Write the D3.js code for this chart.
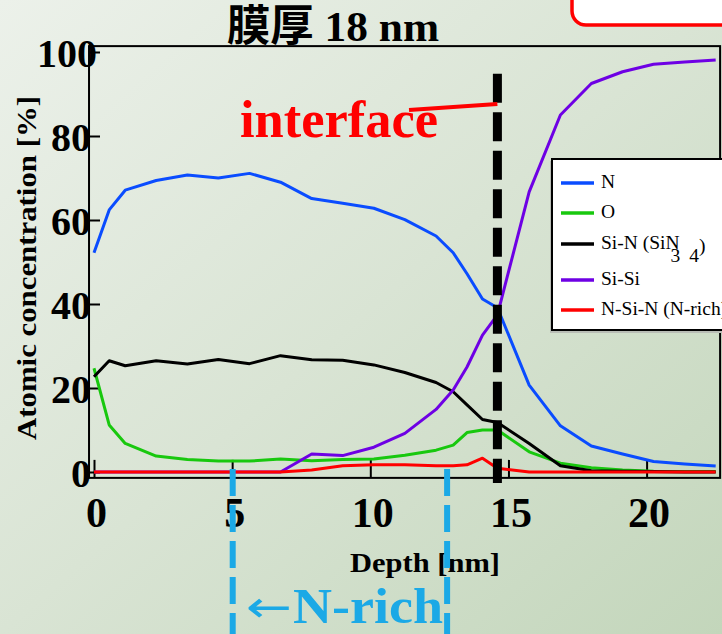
<!DOCTYPE html>
<html>
<head>
<meta charset="utf-8">
<script src="https://cdn.jsdelivr.net/npm/d3@7"></script>
<style>
  html, body { margin: 0; padding: 0; overflow: hidden; }
  svg { display: block; }
</style>
</head>
<body>
<script>
// Sputter depth profile of an 18 nm SiN film
const depth = [0, 0.55, 1.13, 2.25, 3.38, 4.5, 5.63, 6.75, 7.88, 9.0, 10.13, 11.25, 12.38, 13.0, 13.5, 14.06, 14.6, 15.75, 16.88, 18.0, 19.13, 20.25, 21.38, 22.5];
const nitrogen = [52.2, 62.4, 67.1, 69.4, 70.7, 70.0, 71.1, 69.0, 65.1, 64.0, 62.8, 60.1, 56.2, 52.2, 47.2, 41.2, 39.1, 20.7, 11.0, 6.2, 4.3, 2.5, 1.9, 1.4];
const oxygen = [24.7, 11.2, 6.8, 3.8, 3.0, 2.6, 2.6, 3.1, 2.7, 3.0, 3.1, 4.0, 5.2, 6.4, 9.4, 10.0, 10.0, 4.8, 2.1, 1.0, 0.5, 0.2, 0.1, 0.1];
const siN = [22.7, 26.5, 25.3, 26.5, 25.7, 26.8, 25.8, 27.7, 26.7, 26.6, 25.5, 23.7, 21.3, 19.1, 16.0, 12.5, 11.8, 6.8, 1.5, 0.3, 0.2, 0.1, 0, 0];
const siSi = [0, 0, 0, 0, 0, 0, 0, 0, 4.3, 3.9, 5.9, 9.2, 14.9, 19.5, 25.0, 32.6, 37.4, 66.7, 85.0, 92.5, 95.3, 97.1, 97.6, 98.1];
const nSiN = [0, 0, 0, 0, 0, 0, 0, 0, 0.5, 1.5, 1.7, 1.7, 1.5, 1.5, 1.7, 3.3, 0.9, 0, 0, 0, 0, 0, 0, 0];

const seriesNames = ["N", "O", "Si-N (SiN)", "Si-Si", "N-Si-N (N-rich)"];
const seriesValues = [nitrogen, oxygen, siN, siSi, nSiN];
const seriesColors = ["#0a4cff", "#18c80e", "#000000", "#6e00e4", "#ff0000"];

const xTicks = [0, 5, 10, 15, 20];
const yTicks = [0, 20, 40, 60, 80, 100];

const interfaceDepth = 14.6;
const nRichRange = [5.02, 12.78];

const W = 722, H = 634;
const serif = "'Liberation Serif', 'Times New Roman', serif";

const svg = d3.select("body").append("svg").attr("width", W).attr("height", H);

// background wash
const defs = svg.append("defs");
const grad = defs.append("linearGradient").attr("id", "bg")
  .attr("x1", "0").attr("y1", "0").attr("x2", "1").attr("y2", "1");
grad.append("stop").attr("offset", "0").attr("stop-color", "#ecf1ea");
grad.append("stop").attr("offset", "0.5").attr("stop-color", "#d9e4d4");
grad.append("stop").attr("offset", "1").attr("stop-color", "#c3d6bb");
svg.append("rect").attr("width", W).attr("height", H).attr("fill", "url(#bg)");

// rounded call-out box in the corner
svg.append("rect").attr("x", 572).attr("y", -30).attr("width", 200).attr("height", 55)
  .attr("rx", 14).attr("fill", "#ffffff").attr("stroke", "#ff0000").attr("stroke-width", 3.5);

const x = d3.scaleLinear().domain([0, 20]).range([94, 646.6]);
const y = d3.scaleLinear().domain([0, 100]).range([472, 52]);

// title
svg.append("text").attr("x", 333).attr("y", 41).attr("text-anchor", "middle")
  .attr("font-family", serif + ", 'Noto Sans CJK JP'").attr("font-weight", "bold")
  .attr("font-size", 43).attr("fill", "#000")
  .attr("textLength", 212).attr("lengthAdjust", "spacingAndGlyphs")
  .text("膜厚 18 nm");

// plot frame
const fx0 = x(-0.18), fx1 = x(22.66), fy0 = y(101.4), fy1 = y(-1.4);
svg.append("rect").attr("x", fx0).attr("y", fy0).attr("width", fx1 - fx0).attr("height", fy1 - fy0)
  .attr("fill", "none").attr("stroke", "#000").attr("stroke-width", 2);

// axes with inward ticks
const xAxis = svg.append("g").attr("transform", `translate(0,${fy1})`)
  .call(d3.axisBottom(x).tickValues(xTicks).tickSize(-18).tickFormat(d3.format("d")));
xAxis.select(".domain").remove();
xAxis.selectAll(".tick line").attr("stroke", "#000").attr("stroke-width", 2);
xAxis.selectAll(".tick text").attr("y", 49).attr("dy", 0).attr("x", 2)
  .attr("font-family", serif).attr("font-weight", "bold").attr("font-size", 42).attr("fill", "#000");

const yAxis = svg.append("g").attr("transform", `translate(${fx0},0)`)
  .call(d3.axisLeft(y).tickValues(yTicks).tickSize(-11).tickFormat(d3.format("d")));
yAxis.select(".domain").remove();
yAxis.selectAll(".tick line").attr("stroke", "#000").attr("stroke-width", 2);
yAxis.selectAll(".tick text").attr("x", d => d === 100 ? 8 : 2).attr("dy", "0.36em")
  .attr("font-family", serif).attr("font-weight", "bold").attr("font-size", 40).attr("fill", "#000");

// axis titles
svg.append("text").attr("transform", "translate(36,268) rotate(-90)").attr("text-anchor", "middle")
  .attr("font-family", serif).attr("font-weight", "bold").attr("font-size", 28).attr("fill", "#000")
  .attr("textLength", 344).attr("lengthAdjust", "spacingAndGlyphs")
  .text("Atomic concentration [%]");
svg.append("text").attr("x", 425).attr("y", 572).attr("text-anchor", "middle")
  .attr("font-family", serif).attr("font-weight", "bold").attr("font-size", 27).attr("fill", "#000")
  .attr("textLength", 150).attr("lengthAdjust", "spacingAndGlyphs")
  .text("Depth [nm]");

// profile curves
const line = d3.line().x((d, i) => x(depth[i])).y(d => y(d));
seriesValues.forEach((vals, k) => {
  svg.append("path").datum(vals).attr("d", line)
    .attr("fill", "none").attr("stroke", seriesColors[k]).attr("stroke-width", 3)
    .attr("stroke-linejoin", "round");
});

// interface marker
svg.append("line").attr("x1", x(interfaceDepth)).attr("x2", x(interfaceDepth))
  .attr("y1", y(94.8)).attr("y2", y(-2.6))
  .attr("stroke", "#000").attr("stroke-width", 9).attr("stroke-dasharray", "29,9.5");
svg.append("line").attr("x1", x(11.4)).attr("y1", 110).attr("x2", x(interfaceDepth)).attr("y2", 104)
  .attr("stroke", "#ff0000").attr("stroke-width", 4);
svg.append("text").attr("x", 240).attr("y", 137)
  .attr("font-family", serif).attr("font-weight", "bold").attr("font-size", 52).attr("fill", "#ff0000")
  .attr("textLength", 198).attr("lengthAdjust", "spacingAndGlyphs")
  .text("interface");

// N-rich band markers
nRichRange.forEach(d => {
  svg.append("line").attr("x1", x(d)).attr("x2", x(d)).attr("y1", 469).attr("y2", H + 5)
    .attr("stroke", "#1ba9e6").attr("stroke-width", 6).attr("stroke-dasharray", "27,9");
});
svg.append("text").attr("x", 246).attr("y", 622)
  .attr("font-family", "'DejaVu Sans', sans-serif").attr("font-size", 44).attr("fill", "#1ba9e6")
  .attr("textLength", 46).attr("lengthAdjust", "spacingAndGlyphs")
  .text("←");
svg.append("text").attr("x", 293).attr("y", 623)
  .attr("font-family", serif).attr("font-weight", "bold").attr("font-size", 51).attr("fill", "#1ba9e6")
  .attr("textLength", 150).attr("lengthAdjust", "spacingAndGlyphs")
  .text("N-rich");

// legend
const lg = svg.append("g");
lg.append("rect").attr("x", 550).attr("y", 161).attr("width", 200).attr("height", 172).attr("fill", "#b9bdb6");
lg.append("rect").attr("x", 552).attr("y", 159).attr("width", 200).attr("height", 171)
  .attr("fill", "#ffffff").attr("stroke", "#000").attr("stroke-width", 2);
const rowsY = [183, 213, 244, 280, 310];
seriesNames.forEach((name, k) => {
  lg.append("line").attr("x1", 561).attr("x2", 594).attr("y1", rowsY[k]).attr("y2", rowsY[k])
    .attr("stroke", seriesColors[k]).attr("stroke-width", 3.5);
  const t = lg.append("text").attr("x", 601).attr("y", rowsY[k] + 5)
    .attr("font-family", serif).attr("font-size", 19.5).attr("fill", "#000");
  if (k === 2) {
    t.append("tspan").text("Si-N (SiN");
    t.append("tspan").attr("dx", -9).attr("dy", 13).text("3");
    t.append("tspan").attr("dx", 9).text("4");
    t.append("tspan").attr("dx", 0).attr("dy", -10).text(")");
  } else {
    t.text(name);
  }
});
</script>
</body>
</html>
